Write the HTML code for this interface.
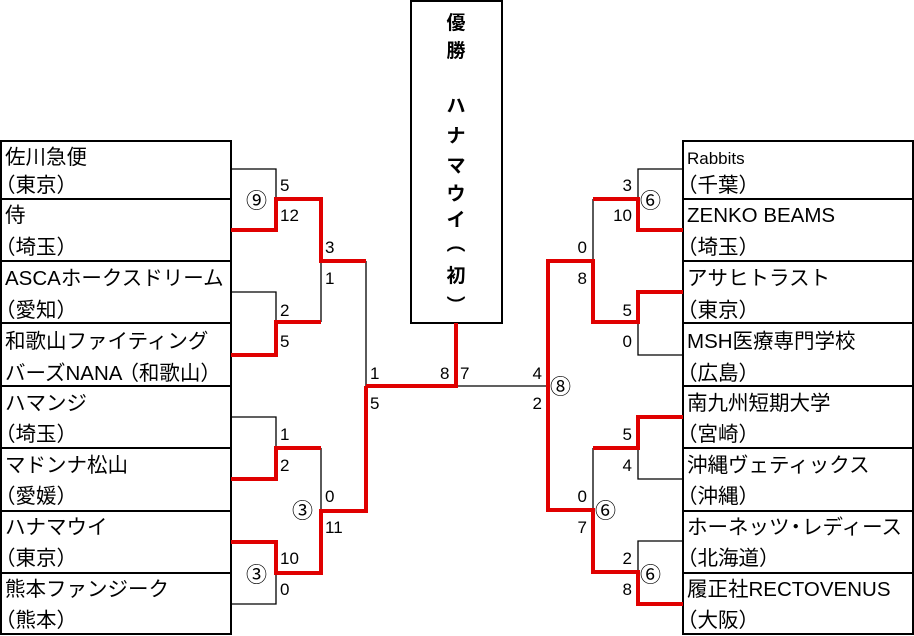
<!DOCTYPE html>
<html><head><meta charset="utf-8"><style>
html,body{margin:0;padding:0;background:#fff;}
svg{display:block;}
text{font-family:"Liberation Sans","Noto Sans CJK JP",sans-serif;font-size:20.5px;fill:#000;}
.n{font-size:17px;}
.b{font-weight:bold;font-size:19px;}
.c{font-family:"Noto Sans CJK JP",sans-serif;font-size:21px;}
</style></head><body>
<svg width="914" height="636" viewBox="0 0 914 636" xmlns="http://www.w3.org/2000/svg">
<g fill="none" stroke="#000" stroke-width="2">
<rect x="1" y="141" width="230" height="493"/>
<line x1="1" y1="199" x2="231" y2="199"/><line x1="1" y1="261" x2="231" y2="261"/>
<line x1="1" y1="323" x2="231" y2="323"/><line x1="1" y1="386" x2="231" y2="386"/>
<line x1="1" y1="448" x2="231" y2="448"/><line x1="1" y1="511" x2="231" y2="511"/>
<line x1="1" y1="573" x2="231" y2="573"/>
<rect x="683" y="141" width="230" height="493"/>
<line x1="683" y1="199" x2="913" y2="199"/><line x1="683" y1="261" x2="913" y2="261"/>
<line x1="683" y1="323" x2="913" y2="323"/><line x1="683" y1="386" x2="913" y2="386"/>
<line x1="683" y1="448" x2="913" y2="448"/><line x1="683" y1="511" x2="913" y2="511"/>
<line x1="683" y1="573" x2="913" y2="573"/>
<rect x="411" y="1" width="91" height="322"/>
</g>
<g fill="none" stroke="#000" stroke-width="1.3">
<polyline points="231,169 276,169 276,199"/>
<polyline points="321,261 321,322"/>
<polyline points="231,292 276,292 276,322"/>
<polyline points="366,261 366,386"/>
<polyline points="231,417 276,417 276,448"/>
<polyline points="321,448 321,511"/>
<polyline points="231,604 276,604 276,573"/>
<polyline points="683,169 638,169 638,199"/>
<polyline points="593,199 593,261"/>
<polyline points="683,355 638,355 638,322"/>
<polyline points="456,386 548,386"/>
<polyline points="548,386 548,510"/>
<polyline points="593,448 593,510"/>
<polyline points="683,479 638,479 638,448"/>
<polyline points="683,541 638,541 638,572"/>
</g>
<g fill="none" stroke="#e00000" stroke-width="4" stroke-linejoin="miter">
<polyline points="231,230 276,230 276,199 321,199 321,261 366,261"/>
<polyline points="231,355 276,355 276,322 321,322"/>
<polyline points="366,386 456,386 456,323"/>
<polyline points="366,386 366,511 321,511 321,573 276,573 276,542 231,542"/>
<polyline points="231,479 276,479 276,448 321,448"/>
<polyline points="683,230 638,230 638,199 593,199"/>
<polyline points="548,386 548,261 593,261 593,322 638,322 638,292 683,292"/>
<polyline points="548,386 548,510 593,510 593,572 638,572 638,604 683,604"/>
<polyline points="593,448 638,448 638,417 683,417"/>
</g>
<g>
<text x="5" y="164">佐川急便</text><text x="-5" y="192">（東京）</text>
<text x="5" y="222">侍</text><text x="-5" y="254">（埼玉）</text>
<text x="5" y="285">ASCAホークスドリーム</text><text x="-5" y="317">（愛知）</text>
<text x="5" y="348">和歌山ファイティング</text><text x="5" y="380">バーズNANA<tspan dx="-4">（和歌山）</tspan></text>
<text x="5" y="410">ハマンジ</text><text x="-5" y="441">（埼玉）</text>
<text x="5" y="472">マドンナ松山</text><text x="-5" y="503">（愛媛）</text>
<text x="5" y="534">ハナマウイ</text><text x="-5" y="565">（東京）</text>
<text x="5" y="596">熊本ファンジーク</text><text x="-5" y="627">（熊本）</text>

<text x="687" y="164" style="font-size:17px">Rabbits</text><text x="677" y="192">（千葉）</text>
<text x="687" y="222">ZENKO BEAMS</text><text x="677" y="254">（埼玉）</text>
<text x="687" y="285">アサヒトラスト</text><text x="677" y="317">（東京）</text>
<text x="687" y="348">MSH医療専門学校</text><text x="677" y="380">（広島）</text>
<text x="687" y="410">南九州短期大学</text><text x="677" y="441">（宮崎）</text>
<text x="687" y="472">沖縄ヴェティックス</text><text x="677" y="503">（沖縄）</text>
<text x="687" y="534">ホーネッツ<tspan dx="-4">・</tspan><tspan dx="-4">レディース</tspan></text><text x="677" y="565">（北海道）</text>
<text x="687" y="596">履正社RECTOVENUS</text><text x="677" y="627">（大阪）</text>
</g>
<g text-anchor="middle">
<text class="b" x="456" y="29">優</text><text class="b" x="456" y="57">勝</text>
<text class="b" x="456" y="112">ハ</text><text class="b" x="456" y="142">ナ</text>
<text class="b" x="456" y="172">マ</text><text class="b" x="456" y="200">ウ</text>
<text class="b" x="456" y="226">イ</text><text class="b" x="456" y="250">︵</text>
<text class="b" x="456" y="282">初</text><text class="b" x="456" y="312">︶</text>
</g>
<g>
<text class="n" x="280" y="191">5</text><text class="n" x="280" y="221">12</text>
<text class="n" x="325" y="253">3</text><text class="n" x="325" y="284">1</text>
<text class="n" x="280" y="316">2</text><text class="n" x="280" y="347">5</text>
<text class="n" x="370" y="379">1</text><text class="n" x="440" y="379">8</text>
<text class="n" x="460" y="379">7</text><text class="n" x="370" y="409">5</text>
<text class="n" x="280" y="440">1</text><text class="n" x="280" y="471">2</text>
<text class="n" x="325" y="502">0</text><text class="n" x="325" y="533">11</text>
<text class="n" x="280" y="564">10</text><text class="n" x="280" y="595">0</text>
<text class="c" x="246" y="208">⑨</text>
<text class="c" x="292" y="518">③</text>
<text class="c" x="246" y="582">③</text>
</g>
<g text-anchor="end">
<text class="n" x="632" y="191">3</text><text class="n" x="632" y="221">10</text>
<text class="n" x="587" y="253">0</text><text class="n" x="587" y="284">8</text>
<text class="n" x="632" y="316">5</text><text class="n" x="632" y="347">0</text>
<text class="n" x="542" y="379">4</text><text class="n" x="542" y="409">2</text>
<text class="n" x="632" y="440">5</text><text class="n" x="632" y="471">4</text>
<text class="n" x="587" y="502">0</text><text class="n" x="587" y="533">7</text>
<text class="n" x="632" y="564">2</text><text class="n" x="632" y="595">8</text>
</g>
<g>
<text class="c" x="640" y="208">⑥</text>
<text class="c" x="550" y="394">⑧</text>
<text class="c" x="595" y="518">⑥</text>
<text class="c" x="640" y="582">⑥</text>
</g>
</svg>
</body></html>
